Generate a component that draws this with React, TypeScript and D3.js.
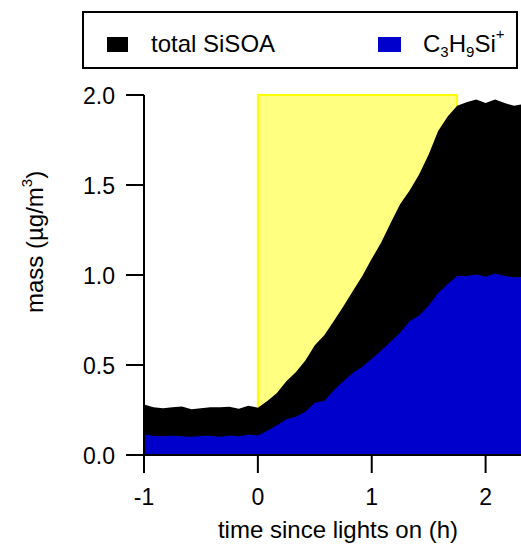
import React from "react";
import * as d3 from "d3";

const times: number[] = [
  -1.0, -0.917, -0.833, -0.75, -0.667, -0.583, -0.5, -0.417, -0.333, -0.25, -0.167, -0.083,
  0.0, 0.083, 0.167, 0.25, 0.333, 0.417, 0.5, 0.583, 0.667, 0.75, 0.833, 0.917,
  1.0, 1.083, 1.167, 1.25, 1.333, 1.417, 1.5, 1.583, 1.667, 1.75, 1.833, 1.917,
  2.0, 2.083, 2.167, 2.25, 2.333,
];
const totalSiSOA: number[] = [
  0.28, 0.265, 0.26, 0.265, 0.27, 0.254, 0.26, 0.265, 0.265, 0.268, 0.257, 0.274,
  0.263, 0.3, 0.345, 0.41, 0.46, 0.525, 0.61, 0.665, 0.745, 0.825, 0.91, 0.995,
  1.09, 1.18, 1.29, 1.395, 1.47, 1.56, 1.67, 1.8, 1.88, 1.94, 1.96, 1.975,
  1.955, 1.975, 1.955, 1.94, 1.95,
];
const c3h9si: number[] = [
  0.115, 0.106, 0.106, 0.107, 0.104, 0.102, 0.105, 0.107, 0.102, 0.109, 0.104, 0.113,
  0.109, 0.135, 0.165, 0.198, 0.213, 0.24, 0.29, 0.3, 0.36, 0.41, 0.455, 0.49,
  0.535, 0.58, 0.63, 0.68, 0.745, 0.775, 0.83, 0.9, 0.95, 0.995, 0.995, 1.003,
  0.99, 1.008, 0.994, 0.988, 0.99,
];
const lightsOn: [number, number] = [0, 1.75];
const xTicks: number[] = [-1, 0, 1, 2];
const yTicks: number[] = [0, 0.5, 1.0, 1.5, 2.0];

const W = 521;
const H = 546;
const FONT = "Liberation Sans, Arial, Helvetica, sans-serif";

export default function App() {
  const x = d3.scaleLinear().domain([-1, 2]).range([144, 485.6]);
  const y = d3.scaleLinear().domain([0, 2]).range([455, 95]);
  const x0 = x(-1);
  const xEnd = W;
  const y0 = y(0);

  const idx = times.map((_, i) => i);
  const totalArea = d3
    .area<number>()
    .x((i) => x(times[i]))
    .y0(y0)
    .y1((i) => y(totalSiSOA[i]));
  const blueArea = d3
    .area<number>()
    .x((i) => x(times[i]))
    .y0(y0)
    .y1((i) => y(c3h9si[i]));

  const tickLen = 18;

  return (
    <svg
      width={W}
      height={H}
      style={{ position: "absolute", left: 0, top: 0, background: "#fff" }}
      fontFamily={FONT}
    >
      <defs>
        <clipPath id="plotclip">
          <rect x={x0} y={0} width={xEnd - x0} height={y0 + 1} />
        </clipPath>
      </defs>

      {/* lights-on shading */}
      <rect
        x={x(lightsOn[0])}
        y={y(2)}
        width={x(lightsOn[1]) - x(lightsOn[0])}
        height={y0 - y(2)}
        fill="#ffff80"
        stroke="#ffff00"
        strokeWidth={2}
      />

      <g clipPath="url(#plotclip)">
        <path d={totalArea(idx) || ""} fill="#000" />
        <path d={blueArea(idx) || ""} fill="#0000cc" />
      </g>

      {/* axes */}
      <line x1={x0} x2={xEnd} y1={y0} y2={y0} stroke="#000" strokeWidth={2} />
      <line x1={x0} x2={x0} y1={y(2)} y2={y0} stroke="#000" strokeWidth={2} />
      {yTicks.map((t) => (
        <g key={"y" + t}>
          <line x1={x0 - tickLen} x2={x0} y1={y(t)} y2={y(t)} stroke="#000" strokeWidth={2} />
          <text x={115} y={y(t) + 8.5} fontSize={23} textAnchor="end" fill="#000">
            {t.toFixed(1)}
          </text>
        </g>
      ))}
      {xTicks.map((t) => (
        <g key={"x" + t}>
          <line x1={x(t)} x2={x(t)} y1={y0} y2={y0 + tickLen} stroke="#000" strokeWidth={2} />
          <text x={x(t)} y={505} fontSize={23} textAnchor="middle" fill="#000">
            {t}
          </text>
        </g>
      ))}

      <text x={338} y={538} fontSize={24} textAnchor="middle" fill="#000">
        time since lights on (h)
      </text>
      <text transform="translate(43,313) rotate(-90)" fontSize={24} fill="#000">
        mass (µg/m
        <tspan fontSize={15} dy={-11}>3</tspan>
        <tspan dy={11}>)</tspan>
      </text>

      {/* legend */}
      <rect x={83} y={12} width={434} height={56} fill="#fff" stroke="#000" strokeWidth={2} />
      <rect x={107} y={37} width={21} height={15} fill="#000" />
      <text x={151} y={52} fontSize={24} fill="#000">
        total SiSOA
      </text>
      <rect x={378} y={37} width={23} height={15} fill="#0000cc" />
      <text x={423} y={52} fontSize={24} fill="#000">
        C<tspan fontSize={15} dy={5}>3</tspan>
        <tspan dy={-5}>H</tspan>
        <tspan fontSize={15} dy={5}>9</tspan>
        <tspan dy={-5}>Si</tspan>
        <tspan fontSize={15} dy={-13}>+</tspan>
      </text>
    </svg>
  );
}
